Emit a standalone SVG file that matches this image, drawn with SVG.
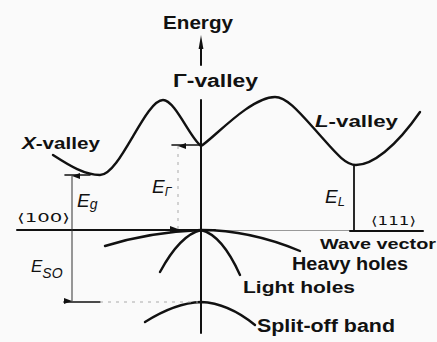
<svg xmlns="http://www.w3.org/2000/svg" width="437" height="342" viewBox="0 0 437 342">
<style>
.t{font-family:"Liberation Sans",Arial,sans-serif;font-weight:bold;fill:#111}
.i{font-family:"Liberation Sans",Arial,sans-serif;font-style:italic;fill:#111}
.b{font-family:"DejaVu Sans","Liberation Sans",sans-serif;fill:#111}
.ln{stroke:#111;fill:none;stroke-linecap:round;stroke-linejoin:round}
.band{stroke:#111;fill:none;stroke-width:2.4;stroke-linecap:round}
.thin{stroke:#333;stroke-width:1;fill:none}
.gray{stroke:#999;stroke-width:1.2;fill:none}
.dash{stroke:#aaa;stroke-width:1;fill:none;stroke-dasharray:3 5}
</style>
<defs>
<marker id="up" viewBox="0 0 6 8" refX="3" refY="0" markerWidth="6" markerHeight="8" orient="auto-start-reverse" markerUnits="userSpaceOnUse">
<path d="M0,8 L3,0 L6,8 z" fill="#111"/>
</marker>
</defs>
<rect width="437" height="342" fill="#fafafa"/>

<g id="axes">
<polygon points="201,35 198.6,49 203.4,49" fill="#111"/>
<line class="ln" x1="201" y1="48" x2="201" y2="65" stroke-width="2"/>
<line class="ln" x1="201" y1="100" x2="201" y2="333" stroke-width="2"/>
<line class="ln" x1="17" y1="230" x2="215" y2="230" stroke-width="2"/>
<line class="gray" x1="215" y1="230.5" x2="350" y2="230.5"/>
<line class="ln" x1="350" y1="231" x2="423" y2="231" stroke-width="2"/>
</g>

<g id="conduction-band">
<path class="band" d="M53,155 C70,166 85,175 100,175 C120,175 145,100 163,100 C175,100 190,138 201,146 C212,140 250,97 275,97 C287,97 300,113 318,133 C335,152 345,165 356,165 C372,165 395,148 420,112"/>
</g>

<g id="valence-bands">
<path id="heavy-holes-band" class="band" d="M105,246 Q150,232 201,230 Q250,230 300,251"/>
<path id="light-holes-band" class="band" d="M160,272 Q180,235 201,230 Q222,235 240,275"/>
<path id="split-off-band" class="band" d="M145,322 Q175,303 201,302 Q228,303 255,325"/>
</g>

<g id="energy-gaps">
<line class="ln" x1="65" y1="175" x2="90" y2="175" stroke-width="1.6"/>
<line class="thin" x1="72" y1="176" x2="72" y2="301" marker-start="url(#up)" marker-end="url(#up)"/>
<line class="ln" x1="64" y1="302" x2="100" y2="302" stroke-width="1.6"/>
<line class="dash" x1="100" y1="302" x2="198" y2="302"/>
<line class="ln" x1="172" y1="145" x2="200" y2="145" stroke-width="1.6"/>
<line class="dash" x1="178" y1="146" x2="178" y2="229" marker-start="url(#up)" marker-end="url(#up)"/>
<line class="ln" x1="354" y1="166" x2="354" y2="230" stroke-width="1.8"/>
</g>

<g id="labels">
<text class="t" x="163" y="29" font-size="19" textLength="70" lengthAdjust="spacingAndGlyphs">Energy</text>
<text class="t" x="173" y="87" font-size="18" textLength="85" lengthAdjust="spacingAndGlyphs">Γ-valley</text>
<text class="t" x="22" y="149" font-size="17" textLength="78" lengthAdjust="spacingAndGlyphs"><tspan font-style="italic">X</tspan>-valley</text>
<text class="t" x="315" y="127" font-size="16" textLength="83" lengthAdjust="spacingAndGlyphs"><tspan font-style="italic">L</tspan>-valley</text>
<text class="i" x="77" y="207" font-size="19">E<tspan font-size="14" dy="2">g</tspan></text>
<text class="i" x="152" y="193" font-size="19">E<tspan font-size="12" dy="3">Γ</tspan></text>
<text class="i" x="325" y="203" font-size="19">E<tspan font-size="13" dy="3">L</tspan></text>
<text class="i" x="31" y="272" font-size="17">E<tspan font-size="14" dy="6">SO</tspan></text>
<text class="b" x="17" y="222" font-size="12" textLength="53" lengthAdjust="spacingAndGlyphs">⟨100⟩</text>
<text class="b" x="371" y="225" font-size="12" textLength="45" lengthAdjust="spacingAndGlyphs">⟨111⟩</text>
<text class="t" x="320" y="249" font-size="15" textLength="116" lengthAdjust="spacingAndGlyphs">Wave vector</text>
<text class="t" x="292" y="270" font-size="18" textLength="116" lengthAdjust="spacingAndGlyphs">Heavy holes</text>
<text class="t" x="243" y="293" font-size="17" textLength="112" lengthAdjust="spacingAndGlyphs">Light holes</text>
<text class="t" x="257" y="332" font-size="18" textLength="138" lengthAdjust="spacingAndGlyphs">Split-off band</text>
</g>
</svg>
